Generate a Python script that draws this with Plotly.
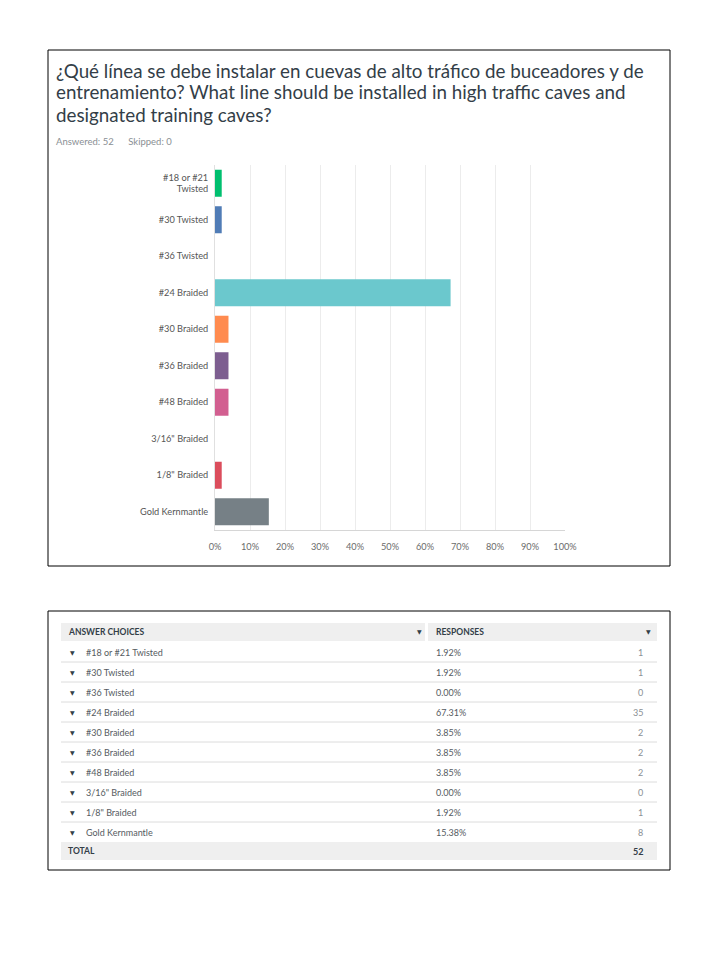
import plotly.graph_objects as go

# Page has an 8px body margin; keep the figure small enough to avoid scrollbars.
OFF = 8
W, H = 704, 944

categories = ["#18 or #21 Twisted", "#30 Twisted", "#36 Twisted", "#24 Braided",
              "#30 Braided", "#36 Braided", "#48 Braided", "3/16\" Braided",
              "1/8\" Braided", "Gold Kernmantle"]
axis_labels = ["#18 or #21<br>Twisted", "#30 Twisted", "#36 Twisted", "#24 Braided",
               "#30 Braided", "#36 Braided", "#48 Braided", "3/16\" Braided",
               "1/8\" Braided", "Gold Kernmantle"]
percents = [1.92, 1.92, 0.00, 67.31, 3.85, 3.85, 3.85, 0.00, 1.92, 15.38]
counts = [1, 1, 0, 35, 2, 2, 2, 0, 1, 8]
total = 52
answered = 52
skipped = 0
colors = ["#00bf6f", "#507cb6", "#f9be00", "#6bc8cd", "#ff8b4f", "#7d5e90",
          "#d25f90", "#b8a700", "#db4d5c", "#768086"]
x_ticks = [0, 10, 20, 30, 40, 50, 60, 70, 80, 90, 100]
x_tick_labels = [f"{v}%" for v in x_ticks]

title_lines = ["¿Qué línea se debe instalar en cuevas de alto tráfico de buceadores y de",
               "entrenamiento? What line should be installed in high traffic caves and",
               "designated training caves?"]

FONT = "Lato"


def px(x):
    return (x - OFF) / W


def py(y):
    return 1 - (y - OFF) / H


fig = go.Figure()
fig.add_trace(go.Bar(
    x=percents, y=axis_labels, orientation="h",
    marker=dict(color=colors, line=dict(width=0)),
    width=0.74, hoverinfo="skip", showlegend=False,
))

fig.update_layout(
    width=W, height=H, autosize=False,
    margin=dict(l=0, r=0, t=0, b=0, pad=0),
    paper_bgcolor="white", plot_bgcolor="white",
    font=dict(family=FONT),
    xaxis=dict(
        domain=[px(215), px(565)], range=[0, 100],
        tickvals=x_ticks, ticktext=x_tick_labels,
        showgrid=True, gridcolor="#ececec", gridwidth=1,
        zeroline=False, showline=True, linecolor="#d6d6d6", linewidth=1,
        ticks="", tickfont=dict(size=9.2, color="#6b6b6b", family=FONT),
        ticklabelstandoff=8, fixedrange=True, automargin=False,
    ),
    yaxis=dict(
        domain=[py(530), py(165)],
        categoryorder="array", categoryarray=axis_labels,
        autorange="reversed", showgrid=False, zeroline=False,
        showline=True, linecolor="#e0e0e0", linewidth=1,
        ticks="", tickfont=dict(size=9.2, color="#555555", family=FONT),
        ticklabelstandoff=4, fixedrange=True, automargin=False,
    ),
)

shapes = []
annotations = []

# outer boxes
shapes.append(dict(type="rect", xref="paper", yref="paper",
                   x0=px(48), x1=px(670), y0=py(566), y1=py(50),
                   line=dict(color="black", width=1), fillcolor="rgba(0,0,0,0)"))
shapes.append(dict(type="rect", xref="paper", yref="paper",
                   x0=px(48), x1=px(670), y0=py(870), y1=py(611),
                   line=dict(color="black", width=1), fillcolor="rgba(0,0,0,0)"))

# title (one annotation per line for tighter leading)
for k, line in enumerate(title_lines):
    annotations.append(dict(text=line, xref="paper", yref="paper", x=px(54), y=py(70 + 22 * k),
                            xanchor="left", yanchor="middle", align="left", showarrow=False,
                            font=dict(size=18.8, color="#333e48", family=FONT)))
annotations.append(dict(text=f"Answered: {answered}&nbsp;&nbsp;&nbsp;&nbsp;&nbsp;&nbsp;Skipped: {skipped}",
                        xref="paper", yref="paper", x=px(54), y=py(141),
                        xanchor="left", yanchor="middle", showarrow=False,
                        font=dict(size=9.5, color="#8a8f94", family=FONT)))

# table header
shapes.append(dict(type="rect", xref="paper", yref="paper", x0=px(61), x1=px(425),
                   y0=py(641), y1=py(623), line=dict(width=0), fillcolor="#efefef", layer="below"))
shapes.append(dict(type="rect", xref="paper", yref="paper", x0=px(428), x1=px(657),
                   y0=py(641), y1=py(623), line=dict(width=0), fillcolor="#efefef", layer="below"))
annotations.append(dict(text="<b>ANSWER CHOICES</b>", xref="paper", yref="paper", x=px(66), y=py(632),
                        xanchor="left", yanchor="middle", showarrow=False,
                        font=dict(size=8.5, color="#333e48", family=FONT)))
annotations.append(dict(text="<b>RESPONSES</b>", xref="paper", yref="paper", x=px(434), y=py(632),
                        xanchor="left", yanchor="middle", showarrow=False,
                        font=dict(size=8.5, color="#333e48", family=FONT)))
for ax_ in (419, 648):
    annotations.append(dict(text="▼", xref="paper", yref="paper", x=px(ax_), y=py(631),
                            xanchor="center", yanchor="middle", showarrow=False,
                            font=dict(size=6, color="#333e48", family="DejaVu Sans")))

row_h = 20
for i, (lab, pct, cnt) in enumerate(zip(categories, percents, counts)):
    yc = 652 + row_h * i
    annotations.append(dict(text="▼", xref="paper", yref="paper", x=px(72), y=py(yc),
                            xanchor="center", yanchor="middle", showarrow=False,
                            font=dict(size=6, color="#333e48", family="DejaVu Sans")))
    annotations.append(dict(text=lab, xref="paper", yref="paper", x=px(84), y=py(yc),
                            xanchor="left", yanchor="middle", showarrow=False,
                            font=dict(size=9, color="#555b61", family=FONT)))
    annotations.append(dict(text=f"{pct:.2f}%", xref="paper", yref="paper", x=px(434), y=py(yc),
                            xanchor="left", yanchor="middle", showarrow=False,
                            font=dict(size=9, color="#555b61", family=FONT)))
    annotations.append(dict(text=str(cnt), xref="paper", yref="paper", x=px(645), y=py(yc),
                            xanchor="right", yanchor="middle", showarrow=False,
                            font=dict(size=9, color="#8a8f94", family=FONT)))
    if i < len(categories) - 1:
        yl = yc + row_h / 2
        shapes.append(dict(type="line", xref="paper", yref="paper", x0=px(61), x1=px(657),
                           y0=py(yl), y1=py(yl), line=dict(color="#dcdcdc", width=1)))

# total row
shapes.append(dict(type="rect", xref="paper", yref="paper", x0=px(61), x1=px(657),
                   y0=py(860), y1=py(842), line=dict(width=0), fillcolor="#efefef", layer="below"))
annotations.append(dict(text="<b>TOTAL</b>", xref="paper", yref="paper", x=px(66), y=py(851),
                        xanchor="left", yanchor="middle", showarrow=False,
                        font=dict(size=8.5, color="#333e48", family=FONT)))
annotations.append(dict(text=f"<b>{total}</b>", xref="paper", yref="paper", x=px(645), y=py(851),
                        xanchor="right", yanchor="middle", showarrow=False,
                        font=dict(size=9, color="#333e48", family=FONT)))

fig.update_layout(shapes=shapes, annotations=annotations)
fig.write_html("out.html")
